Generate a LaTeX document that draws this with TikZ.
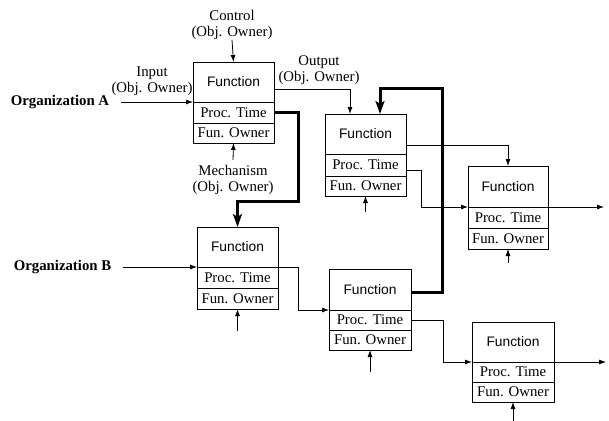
\documentclass[tikz,border=0pt]{standalone}
\usepackage{fontspec}
\setmainfont{Liberation Serif}
\setsansfont{Liberation Sans}
\usetikzlibrary{arrows.meta}
\newcommand\fnbox[7]{% #1 name, #2 xl, #3 xr, #4 top, #5 div1, #6 div2, #7 bottom
  \node[fpart, minimum width={(#3-#2)*1pt}, minimum height={(#5-#4)*1pt}] (#1f) at ({(#2+#3)/2},{(#4+#5)/2}) {\fontsize{13.8}{16}\sffamily Function};
  \node[fpart, minimum width={(#3-#2)*1pt}, minimum height={(#6-#5)*1pt}] (#1p) at ({(#2+#3)/2},{(#5+#6)/2}) {Proc. Time};
  \node[fpart, minimum width={(#3-#2)*1pt}, minimum height={(#7-#6)*1pt}] (#1o) at ({(#2+#3)/2},{(#6+#7)/2}) {Fun. Owner};
}
\begin{document}
\begin{tikzpicture}[x=1pt,y=-1pt,
  fpart/.style={draw, line width=0.8pt, inner sep=0pt, outer sep=0pt, font=\fontsize{14.8}{16}\selectfont},
  lbl/.style={align=center, font=\fontsize{14.8}{16}\selectfont, inner sep=0pt},
  org/.style={font=\fontsize{14.8}{16}\selectfont\bfseries, inner sep=0pt},
  conn/.style={line width=0.8pt, -{Latex[length=7pt,width=5pt]}},
  heavy/.style={line width=3pt, -{Stealth[length=13pt,width=9pt,inset=3pt]}}]
\useasboundingbox (0,0) rectangle (609,420);

\fnbox{A1}{193}{274}{62}{102}{123}{143}
\fnbox{A2}{325}{406}{114}{154}{176}{196}
\fnbox{A3}{468}{548}{166}{207}{228}{249}
\fnbox{B1}{197}{278}{227}{267}{288}{309}
\fnbox{B2}{329}{411}{269}{310}{330}{350}
\fnbox{B3}{472}{554}{322}{362}{382}{402}

\node[org] (oa) at (60,102) {Organization A};
\node[org] (ob) at (62.5,267) {Organization B};
\node[lbl] (inl) at (152,81) {Input\\(Obj. Owner)};
\node[lbl] (ctl) at (232,25) {Control\\(Obj. Owner)};
\node[lbl] (mech) at (233,180) {Mechanism\\(Obj. Owner)};
\node[lbl] (outl) at (319,70) {Output\\(Obj. Owner)};

% inputs / controls / mechanisms
\draw[conn] ([xshift=12pt]oa.east) -- (A1f.south west);
\draw[conn] ([xshift=12pt]ob.east) -- (B1f.south west);
\draw[conn] (ctl.south) -- (A1f.north);
\draw[conn] ([yshift=5pt]mech.north) -- (A1o.south);
\draw[conn] ([yshift=-16pt]A2o.south) -- (A2o.south);
\draw[conn] ([yshift=-14pt]A3o.south) -- (A3o.south);
\draw[conn] ([yshift=-22pt]B1o.south) -- (B1o.south);
\draw[conn] ([yshift=-22pt]B2o.south) -- (B2o.south);
\draw[conn] ([yshift=-20pt]B3o.south) -- (B3o.south);

% flows
\draw[conn] ([yshift=-7pt]A1f.east) -| ([xshift=-15.5pt]A2f.north);
\draw[conn] ([yshift=-11pt]A2f.east) -| (A3f.north);
\draw[conn] ([yshift=-5pt]A2p.east) -- ++(15,0) |- (A3f.south west);
\draw[conn] (A3f.south east) -- ++(56,0);
\draw[conn] (B1f.south east) -- ++(20,0) |- (B2f.south west);
\draw[conn] (B2p.east) -- ++(32,0) |- (B3f.south west);
\draw[conn] (B3f.south east) -- ++(52,0);

% heavy feedback lines
\draw[heavy] (A1p.east) -- ++(24,0) -- ++(0,88.5) -| (B1f.north);
\draw[heavy] ([yshift=-3pt]B2f.east) -- ++(31,0) -- ++(0,-204.5) -| ([xshift=14.5pt]A2f.north);
\end{tikzpicture}
\end{document}
